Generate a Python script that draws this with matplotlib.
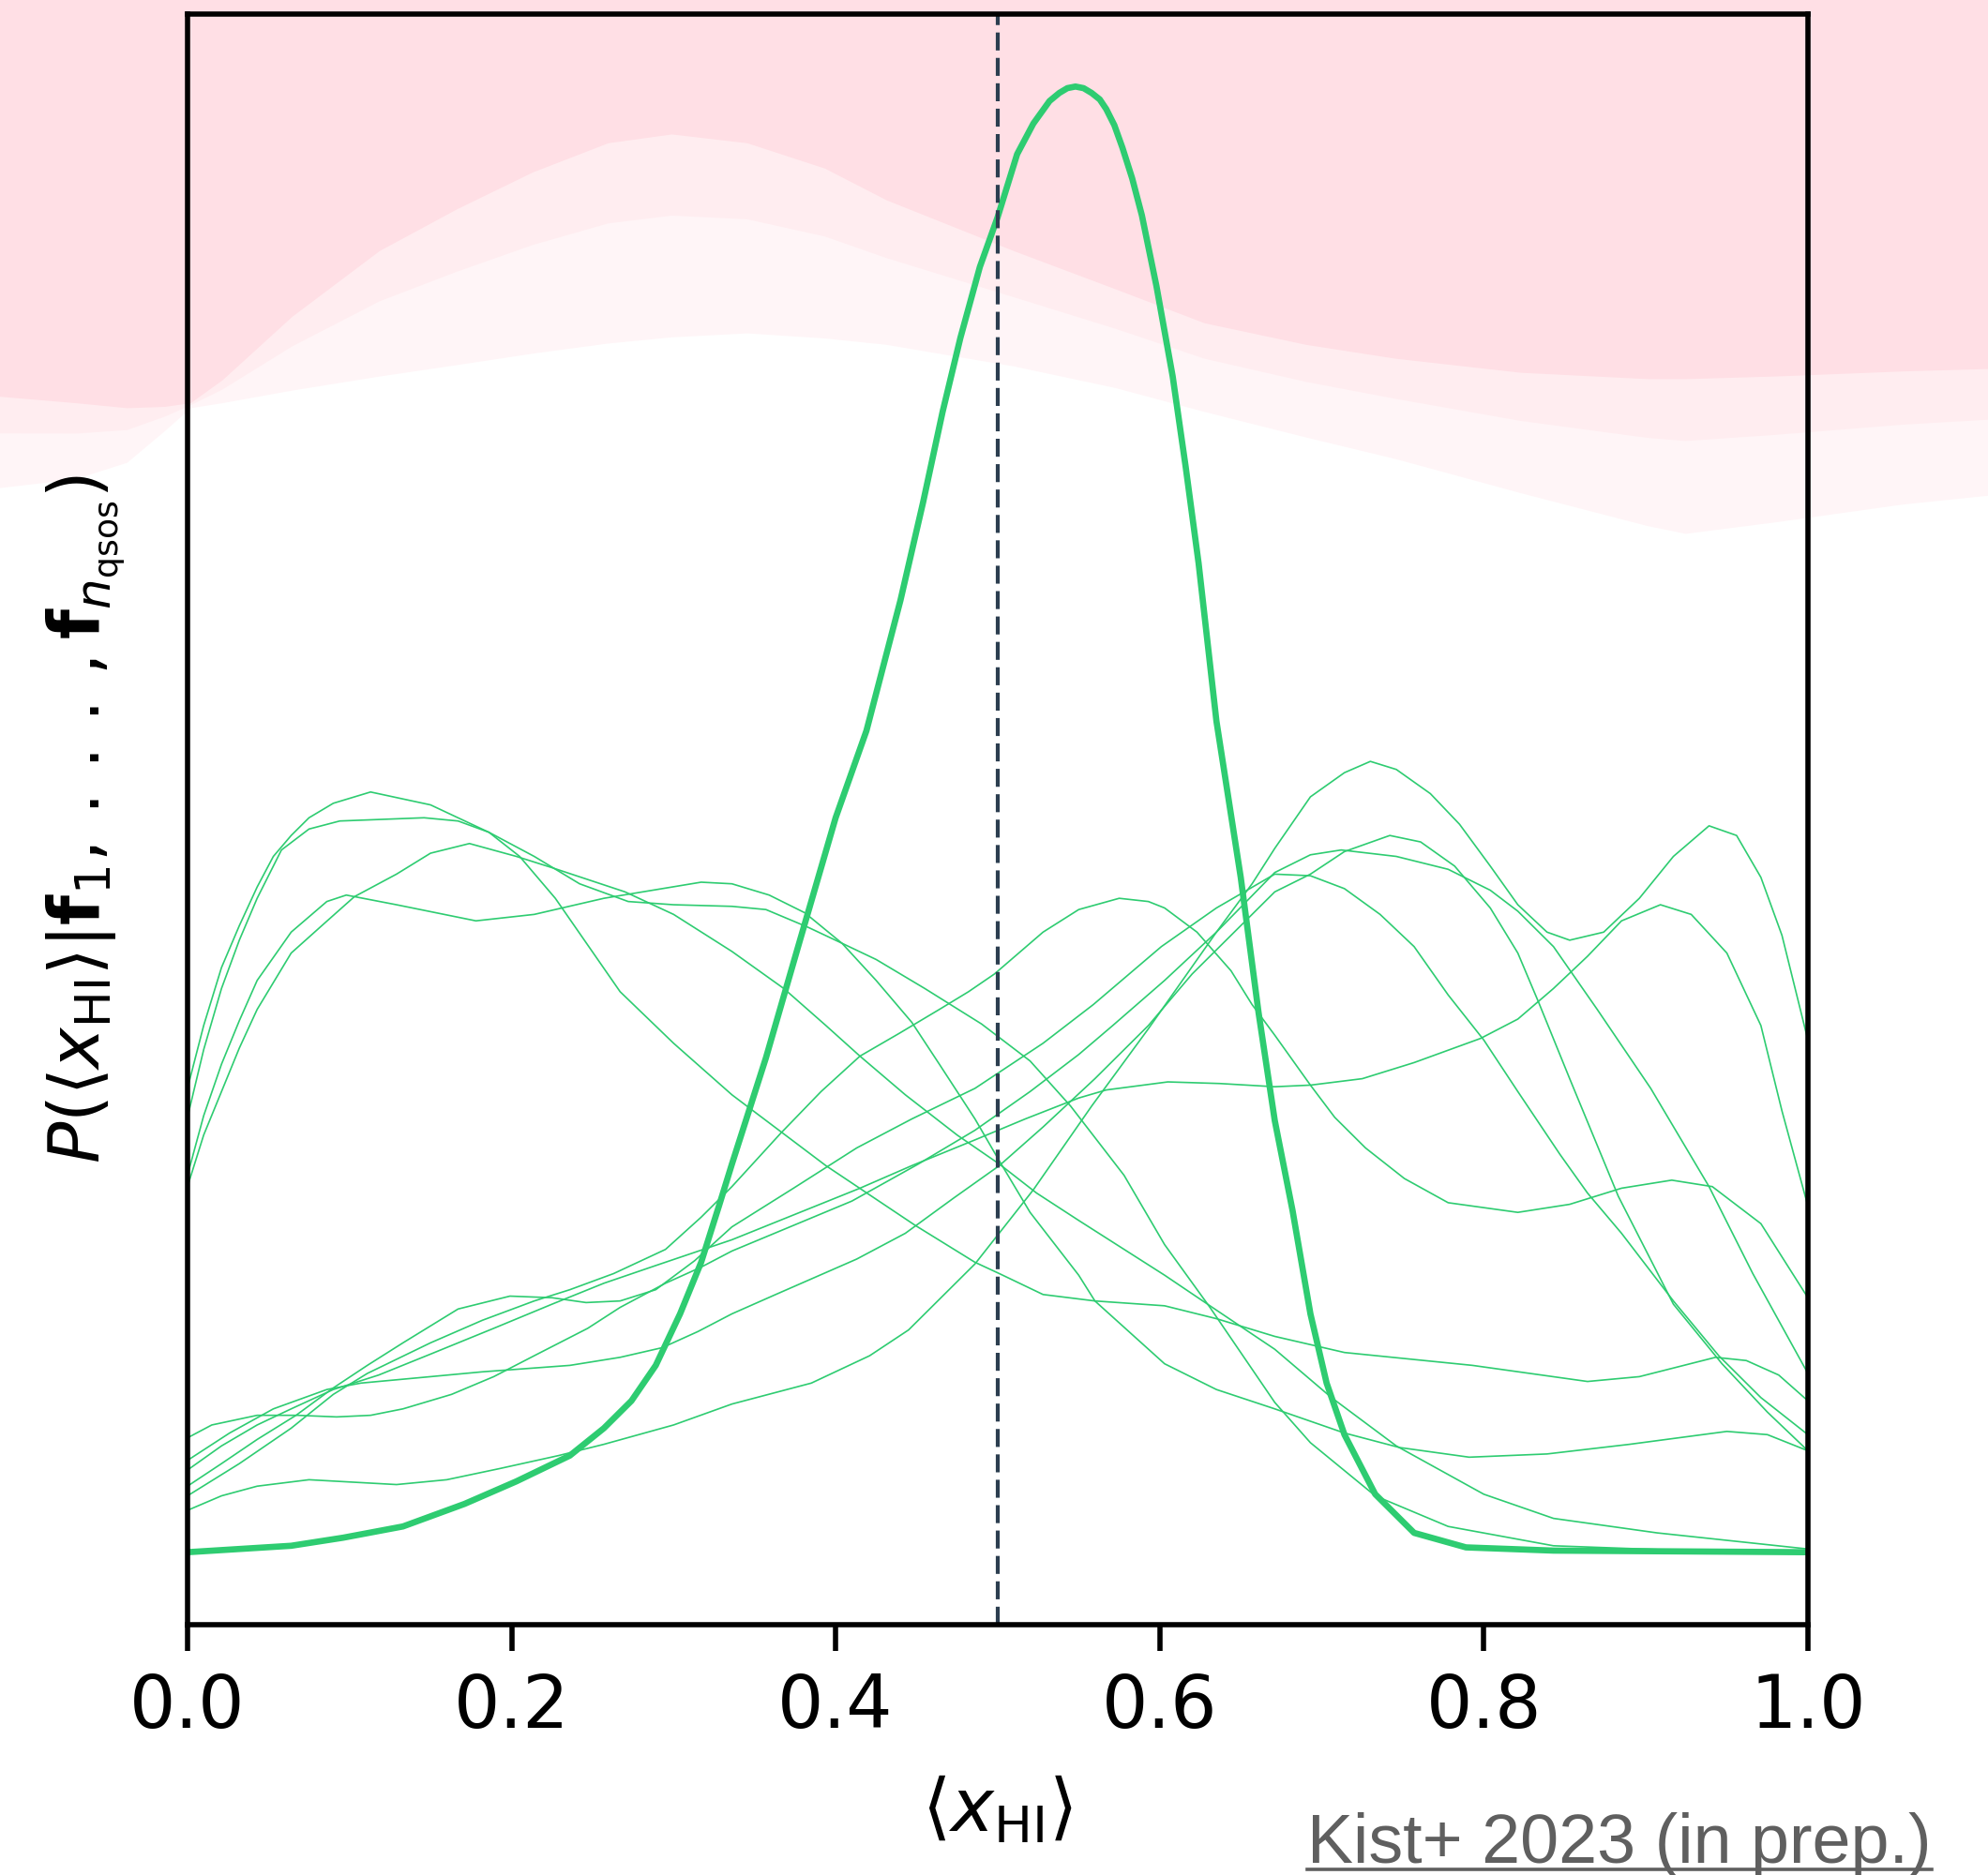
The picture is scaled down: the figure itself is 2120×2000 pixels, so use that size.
import numpy as np
import matplotlib
matplotlib.use("Agg")
import matplotlib.pyplot as plt
from matplotlib.lines import Line2D

plt.rcParams['font.family'] = ['DejaVu Sans']
plt.rcParams['mathtext.fontset'] = 'dejavusans'

GREEN = '#2ECC71'

# combined posterior P(<x_HI> | all quasars)
post_x = [0.000, 0.032, 0.064, 0.096, 0.133, 0.171, 0.203, 0.236, 0.257, 0.274, 0.289, 0.304, 0.317, 0.328, 0.336,
          0.357, 0.378, 0.400, 0.419, 0.440, 0.454, 0.466, 0.477, 0.489, 0.500, 0.512, 0.522, 0.532, 0.538, 0.543,
          0.548, 0.553, 0.558, 0.563, 0.567, 0.572, 0.577, 0.583, 0.589, 0.598, 0.608, 0.616, 0.624, 0.635, 0.650,
          0.661, 0.671, 0.682, 0.693, 0.703, 0.714, 0.733, 0.757, 0.789, 0.843, 1.000]
post_y = [0.045, 0.047, 0.049, 0.054, 0.061, 0.075, 0.089, 0.105, 0.122, 0.139, 0.161, 0.193, 0.225, 0.260, 0.286,
          0.352, 0.425, 0.501, 0.555, 0.636, 0.697, 0.753, 0.799, 0.843, 0.874, 0.913, 0.932, 0.946, 0.951, 0.954,
          0.955, 0.954, 0.951, 0.947, 0.941, 0.931, 0.917, 0.898, 0.875, 0.831, 0.775, 0.719, 0.659, 0.561, 0.464,
          0.380, 0.313, 0.257, 0.193, 0.150, 0.118, 0.081, 0.057, 0.048, 0.046, 0.045]

# individual quasar posteriors
qso1_x = [0, 0.010, 0.021, 0.032, 0.043, 0.053, 0.064, 0.075, 0.090, 0.113, 0.150, 0.186, 0.205, 0.227, 0.267, 0.300,
          0.336, 0.394, 0.449, 0.486, 0.501, 0.528, 0.560, 0.603, 0.635, 0.671, 0.714, 0.793, 0.864, 0.896, 0.943,
          0.962, 0.982, 1.0]
qso1_y = [0.333, 0.372, 0.408, 0.434, 0.458, 0.477, 0.490, 0.501, 0.510, 0.517, 0.509, 0.492, 0.477, 0.451, 0.393,
          0.361, 0.329, 0.285, 0.248, 0.225, 0.218, 0.205, 0.201, 0.198, 0.190, 0.179, 0.169, 0.161, 0.151, 0.154,
          0.166, 0.164, 0.155, 0.139]

qso2_x = [0, 0.010, 0.021, 0.032, 0.043, 0.058, 0.075, 0.094, 0.146, 0.167, 0.186, 0.214, 0.242, 0.272, 0.300, 0.336,
          0.357, 0.383, 0.402, 0.425, 0.455, 0.490, 0.520, 0.545, 0.578, 0.603, 0.631, 0.671, 0.693, 0.733, 0.778,
          0.843, 0.926, 1.0]
qso2_y = [0.315, 0.357, 0.395, 0.425, 0.451, 0.481, 0.494, 0.499, 0.501, 0.499, 0.492, 0.477, 0.460, 0.449, 0.447,
          0.446, 0.444, 0.433, 0.424, 0.413, 0.395, 0.373, 0.350, 0.322, 0.279, 0.236, 0.197, 0.138, 0.113, 0.080,
          0.061, 0.049, 0.046, 0.045]

qso3_x = [0, 0.010, 0.021, 0.032, 0.043, 0.064, 0.086, 0.098, 0.129, 0.178, 0.214, 0.257, 0.317, 0.336, 0.359, 0.381,
          0.404, 0.425, 0.447, 0.464, 0.486, 0.501, 0.520, 0.550, 0.560, 0.603, 0.635, 0.671, 0.714, 0.748, 0.791,
          0.839, 0.890, 0.950, 0.975, 1.0]
qso3_y = [0.279, 0.316, 0.348, 0.375, 0.400, 0.430, 0.449, 0.453, 0.447, 0.437, 0.441, 0.451, 0.461, 0.460, 0.453,
          0.442, 0.423, 0.400, 0.374, 0.348, 0.314, 0.288, 0.256, 0.217, 0.201, 0.162, 0.146, 0.134, 0.119, 0.110,
          0.104, 0.106, 0.112, 0.120, 0.118, 0.108]

qso4_x = [0, 0.010, 0.021, 0.032, 0.043, 0.064, 0.084, 0.103, 0.129, 0.150, 0.174, 0.203, 0.225, 0.270, 0.300, 0.336,
          0.368, 0.394, 0.415, 0.443, 0.475, 0.501, 0.524, 0.550, 0.603, 0.631, 0.671, 0.706, 0.746, 0.800, 0.843,
          0.907, 1.0]
qso4_y = [0.272, 0.304, 0.331, 0.358, 0.382, 0.417, 0.435, 0.452, 0.466, 0.479, 0.485, 0.477, 0.470, 0.455, 0.441,
          0.418, 0.395, 0.372, 0.353, 0.329, 0.304, 0.286, 0.268, 0.251, 0.217, 0.198, 0.171, 0.141, 0.111, 0.081,
          0.066, 0.057, 0.047]

qso5_x = [0, 0.015, 0.043, 0.068, 0.092, 0.113, 0.133, 0.163, 0.189, 0.214, 0.247, 0.267, 0.295, 0.317, 0.336, 0.410,
          0.451, 0.486, 0.520, 0.550, 0.571, 0.603, 0.635, 0.671, 0.693, 0.712, 0.746, 0.778, 0.804, 0.821, 0.843,
          0.870, 0.903, 0.939, 0.966, 1.0]
qso5_y = [0.116, 0.124, 0.130, 0.130, 0.129, 0.130, 0.134, 0.143, 0.154, 0.167, 0.184, 0.197, 0.212, 0.222, 0.232,
          0.263, 0.286, 0.307, 0.331, 0.354, 0.372, 0.400, 0.430, 0.467, 0.478, 0.481, 0.477, 0.469, 0.456, 0.443,
          0.421, 0.382, 0.333, 0.272, 0.218, 0.156]

qso6_x = [0, 0.026, 0.053, 0.086, 0.107, 0.150, 0.182, 0.236, 0.267, 0.293, 0.315, 0.336, 0.363, 0.413, 0.443, 0.473,
          0.501, 0.528, 0.560, 0.593, 0.620, 0.646, 0.671, 0.693, 0.714, 0.742, 0.761, 0.782, 0.804, 0.821, 0.834,
          0.853, 0.883, 0.917, 0.947, 0.975, 1.0]
qso6_y = [0.102, 0.119, 0.134, 0.146, 0.150, 0.154, 0.157, 0.161, 0.166, 0.172, 0.182, 0.193, 0.205, 0.227, 0.243,
          0.265, 0.285, 0.309, 0.339, 0.372, 0.404, 0.430, 0.455, 0.466, 0.480, 0.490, 0.486, 0.471, 0.445, 0.417,
          0.386, 0.339, 0.266, 0.199, 0.162, 0.132, 0.108]

qso7_x = [0, 0.021, 0.043, 0.064, 0.090, 0.118, 0.150, 0.189, 0.225, 0.257, 0.289, 0.336, 0.415, 0.447, 0.486, 0.517,
          0.550, 0.567, 0.605, 0.637, 0.671, 0.693, 0.725, 0.757, 0.798, 0.821, 0.843, 0.864, 0.885, 0.909, 0.928,
          0.950, 0.971, 0.984, 1.0]
qso7_y = [0.096, 0.111, 0.124, 0.134, 0.146, 0.155, 0.168, 0.184, 0.199, 0.212, 0.223, 0.239, 0.271, 0.285, 0.301,
          0.314, 0.327, 0.332, 0.337, 0.336, 0.334, 0.335, 0.339, 0.349, 0.364, 0.376, 0.395, 0.415, 0.437, 0.447,
          0.441, 0.417, 0.372, 0.319, 0.260]

qso8_x = [0, 0.021, 0.043, 0.067, 0.090, 0.111, 0.133, 0.167, 0.199, 0.225, 0.246, 0.267, 0.289, 0.313, 0.336, 0.374,
          0.413, 0.447, 0.486, 0.528, 0.559, 0.601, 0.635, 0.671, 0.693, 0.714, 0.736, 0.757, 0.778, 0.800, 0.821,
          0.847, 0.864, 0.885, 0.917, 0.945, 0.971, 1.0]
qso8_y = [0.086, 0.100, 0.115, 0.130, 0.147, 0.161, 0.175, 0.196, 0.204, 0.203, 0.200, 0.201, 0.208, 0.226, 0.247,
          0.271, 0.296, 0.314, 0.333, 0.361, 0.385, 0.421, 0.445, 0.466, 0.465, 0.457, 0.441, 0.421, 0.391, 0.363,
          0.331, 0.292, 0.268, 0.243, 0.201, 0.167, 0.141, 0.118]

qso9_x = [0, 0.032, 0.064, 0.090, 0.111, 0.150, 0.182, 0.214, 0.236, 0.263, 0.295, 0.317, 0.336, 0.366, 0.391, 0.415,
          0.439, 0.464, 0.482, 0.498, 0.528, 0.550, 0.575, 0.593, 0.603, 0.623, 0.644, 0.657, 0.671, 0.693, 0.708,
          0.727, 0.751, 0.778, 0.821, 0.853, 0.885, 0.916, 0.941, 0.971, 1.0]
qso9_y = [0.080, 0.100, 0.122, 0.143, 0.156, 0.175, 0.189, 0.201, 0.208, 0.218, 0.233, 0.253, 0.272, 0.305, 0.331,
          0.353, 0.367, 0.382, 0.393, 0.404, 0.430, 0.444, 0.451, 0.449, 0.445, 0.430, 0.406, 0.385, 0.366, 0.335,
          0.315, 0.296, 0.277, 0.262, 0.256, 0.261, 0.271, 0.276, 0.272, 0.249, 0.203]

qso10_x = [0, 0.021, 0.043, 0.075, 0.129, 0.160, 0.193, 0.229, 0.257, 0.300, 0.336, 0.385, 0.421, 0.445, 0.486, 0.522,
           0.558, 0.593, 0.614, 0.635, 0.657, 0.671, 0.693, 0.714, 0.730, 0.746, 0.767, 0.785, 0.804, 0.821, 0.839,
           0.853, 0.874, 0.896, 0.917, 0.939, 0.956, 0.971, 0.984, 1.0]
qso10_y = [0.071, 0.080, 0.086, 0.090, 0.087, 0.090, 0.097, 0.105, 0.112, 0.124, 0.137, 0.150, 0.167, 0.183, 0.224,
           0.270, 0.322, 0.370, 0.400, 0.430, 0.460, 0.482, 0.514, 0.529, 0.536, 0.531, 0.516, 0.497, 0.471, 0.447,
           0.430, 0.425, 0.430, 0.451, 0.477, 0.496, 0.490, 0.464, 0.428, 0.363]

qso_curves = [(qso1_x, qso1_y), (qso2_x, qso2_y), (qso3_x, qso3_y), (qso4_x, qso4_y), (qso5_x, qso5_y),
              (qso6_x, qso6_y), (qso7_x, qso7_y), (qso8_x, qso8_y), (qso9_x, qso9_y), (qso10_x, qso10_y)]

x_true = 0.5
xticks = [0.0, 0.2, 0.4, 0.6, 0.8, 1.0]

# pink wave decoration behind the plot (figure fractions, measured from the top)
wave_x = [0, 0.038, 0.064, 0.083, 0.096, 0.112, 0.147, 0.191, 0.230, 0.268, 0.306, 0.338, 0.376, 0.415, 0.446,
          0.510, 0.561, 0.606, 0.657, 0.702, 0.765, 0.829, 0.848, 0.893, 0.957, 1.0]
pink_edge = [0.2116, 0.2150, 0.2177, 0.2170, 0.2150, 0.2028, 0.1690, 0.1339, 0.1116, 0.0920, 0.0764, 0.0717,
             0.0764, 0.0899, 0.1068, 0.1339, 0.1542, 0.1724, 0.1839, 0.1913, 0.1988, 0.2022, 0.2022, 0.2008,
             0.1981, 0.1968]
light_edge = [0.2603, 0.2556, 0.2468, 0.2299, 0.2177, 0.2150, 0.2083, 0.2008, 0.1947, 0.1886, 0.1832, 0.1799,
              0.1778, 0.1805, 0.1839, 0.1954, 0.2069, 0.2197, 0.2333, 0.2448, 0.2630, 0.2806, 0.2847, 0.2786,
              0.2691, 0.2644]

fig = plt.figure(figsize=(10.6, 10.0), dpi=200)

bg = fig.add_axes([0, 0, 1, 1], zorder=0)
bg.set_xlim(0, 1)
bg.set_ylim(1, 0)
bg.axis('off')
mid_edge = np.array(pink_edge) + 0.4 * (np.array(light_edge) - np.array(pink_edge))
bg.fill_between(wave_x, 0, light_edge, color='#FFF5F7', lw=0)
bg.fill_between(wave_x, 0, mid_edge, color='#FFEDF0', lw=0)
bg.fill_between(wave_x, 0, pink_edge, color='#FFDFE5', lw=0)

ax = fig.add_axes([0.0943, 0.1335, 0.8151, 0.859], zorder=1)
ax.set_facecolor('none')

for qx, qy in qso_curves:
    ax.plot(qx, qy, color=GREEN, lw=0.6, solid_joinstyle='round')
ax.plot(post_x, post_y, color=GREEN, lw=2.4, solid_capstyle='round', solid_joinstyle='round')
ax.axvline(x_true, color='#2C3E50', lw=1.5, ls=(0, (4.6, 1.9)))

ax.set_xlim(0, 1)
ax.set_ylim(0, 1)
ax.set_xticks(xticks)
ax.set_xticklabels([f'{t:.1f}' for t in xticks])
ax.set_yticks([])
ax.tick_params(axis='x', direction='out', length=10, width=2, labelsize=28, pad=8)
for s in ax.spines.values():
    s.set_linewidth(2)

ax.set_xlabel(r'$\langle x_{\rm HI}\rangle$', fontsize=28, labelpad=12)
ax.set_ylabel(r'$P(\langle x_{\rm HI}\rangle|\mathbf{f}_1,\,.\,.\,.\,,\mathbf{f}_{n_{\rm qsos}})$', fontsize=26.5,
              labelpad=23)

cite = fig.text(0.6575, 0.0065, 'Kist+ 2023 (in prep.)', fontsize=26.5, color='#5F5F5F',
                family='Liberation Sans', ha='left', va='baseline')
fig.canvas.draw()
bb = cite.get_window_extent()
W, H = fig.canvas.get_width_height()
fig.add_artist(Line2D([bb.x0 / W, bb.x1 / W], [0.003, 0.003], transform=fig.transFigure,
                      color='#5F5F5F', lw=1.3))

fig.savefig('out.png', dpi=200)
